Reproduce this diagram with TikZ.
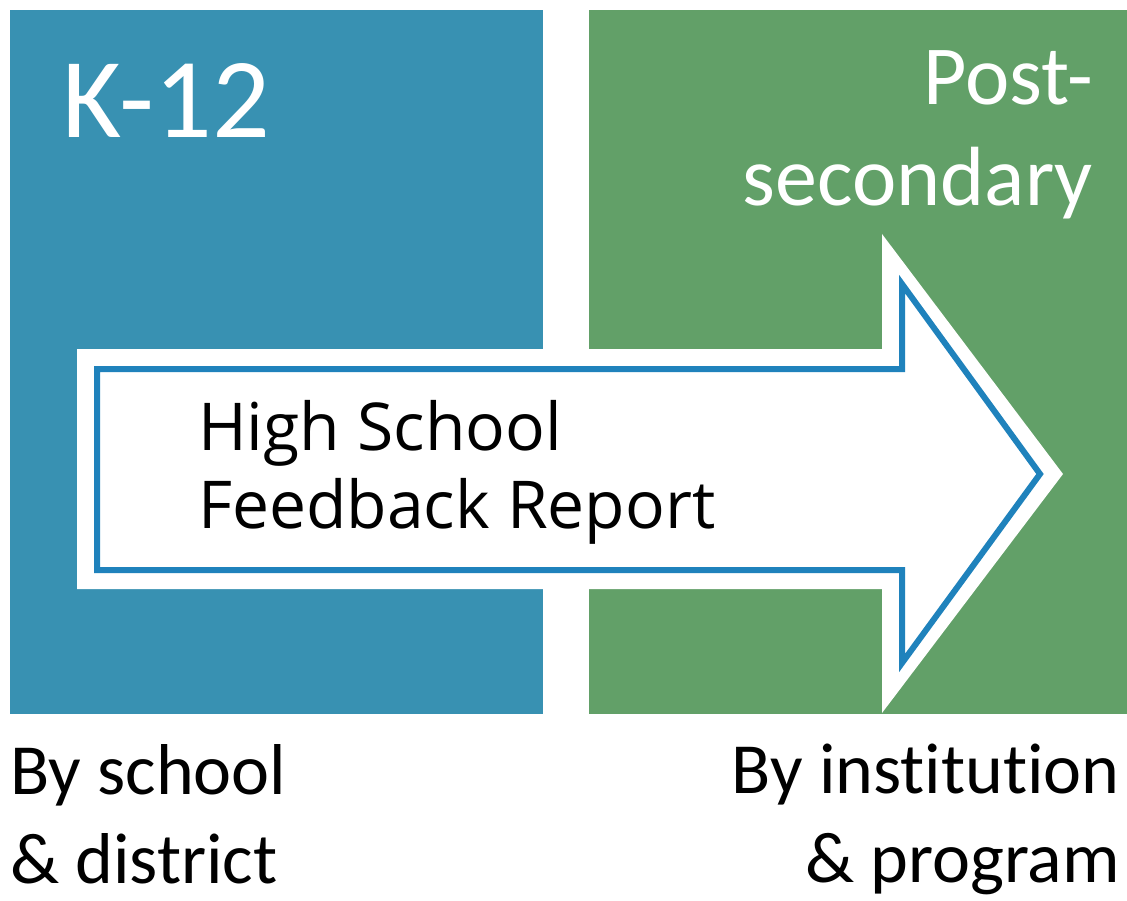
\documentclass[tikz,border=0pt]{standalone}
\usepackage{fontspec}
\setmainfont{Carlito}[Ligatures=NoCommon]
\newfontfamily\reportfont{Open Sans}
\definecolor{kblue}{HTML}{3891B2}
\definecolor{pgreen}{HTML}{62A068}
\definecolor{arrowline}{HTML}{1F82BC}

\begin{document}
\begin{tikzpicture}[x=1pt,y=-1pt,
		sectorbox/.style={inner sep=0pt, anchor=north west, minimum height=704pt},
		caption/.style={inner sep=0pt, font=\fontsize{72}{89}\selectfont}]
				\useasboundingbox (0,0) rectangle (1127,901);
				\node (k12box) [sectorbox, fill=kblue, minimum width=533pt] at (10,10) {};
				\node (postbox) [sectorbox, fill=pgreen, minimum width=538pt] at (589,10) {};
				\fill [white] (77,349) -- (882,349) -- (882,234) -- (1063,474) -- (882,713) -- (882,589) -- (77,589) -- cycle;
				\draw [arrowline, fill=white, line width=6pt, line join=miter] (97,369) -- (902,369) -- (902,284) -- (1040,474) -- (902,663) -- (902,570) -- (97,570) -- cycle;
				\node (k12) [inner sep=0pt, anchor=north west, text=white, font=\fontsize{114}{134}\selectfont] at (62,63) {K-12};
				\node (post) [inner sep=0pt, anchor=north east, align=right, text=white, font=\fontsize{84}{101}\selectfont] at (1093,50) {Post-\\secondary};
				\node (report) [inner sep=0pt, anchor=north west, align=left, font=\reportfont\fontsize{66}{78}\selectfont] at (198,400) {High School\\Feedback Report};
				\node (school) [caption, anchor=north west, align=left] at (10,744) {By school\\\& district};
				\node (institution) [caption, anchor=north east, align=right] at (1120,744) {By institution\\\& program};
			\end{tikzpicture}
\end{document}
